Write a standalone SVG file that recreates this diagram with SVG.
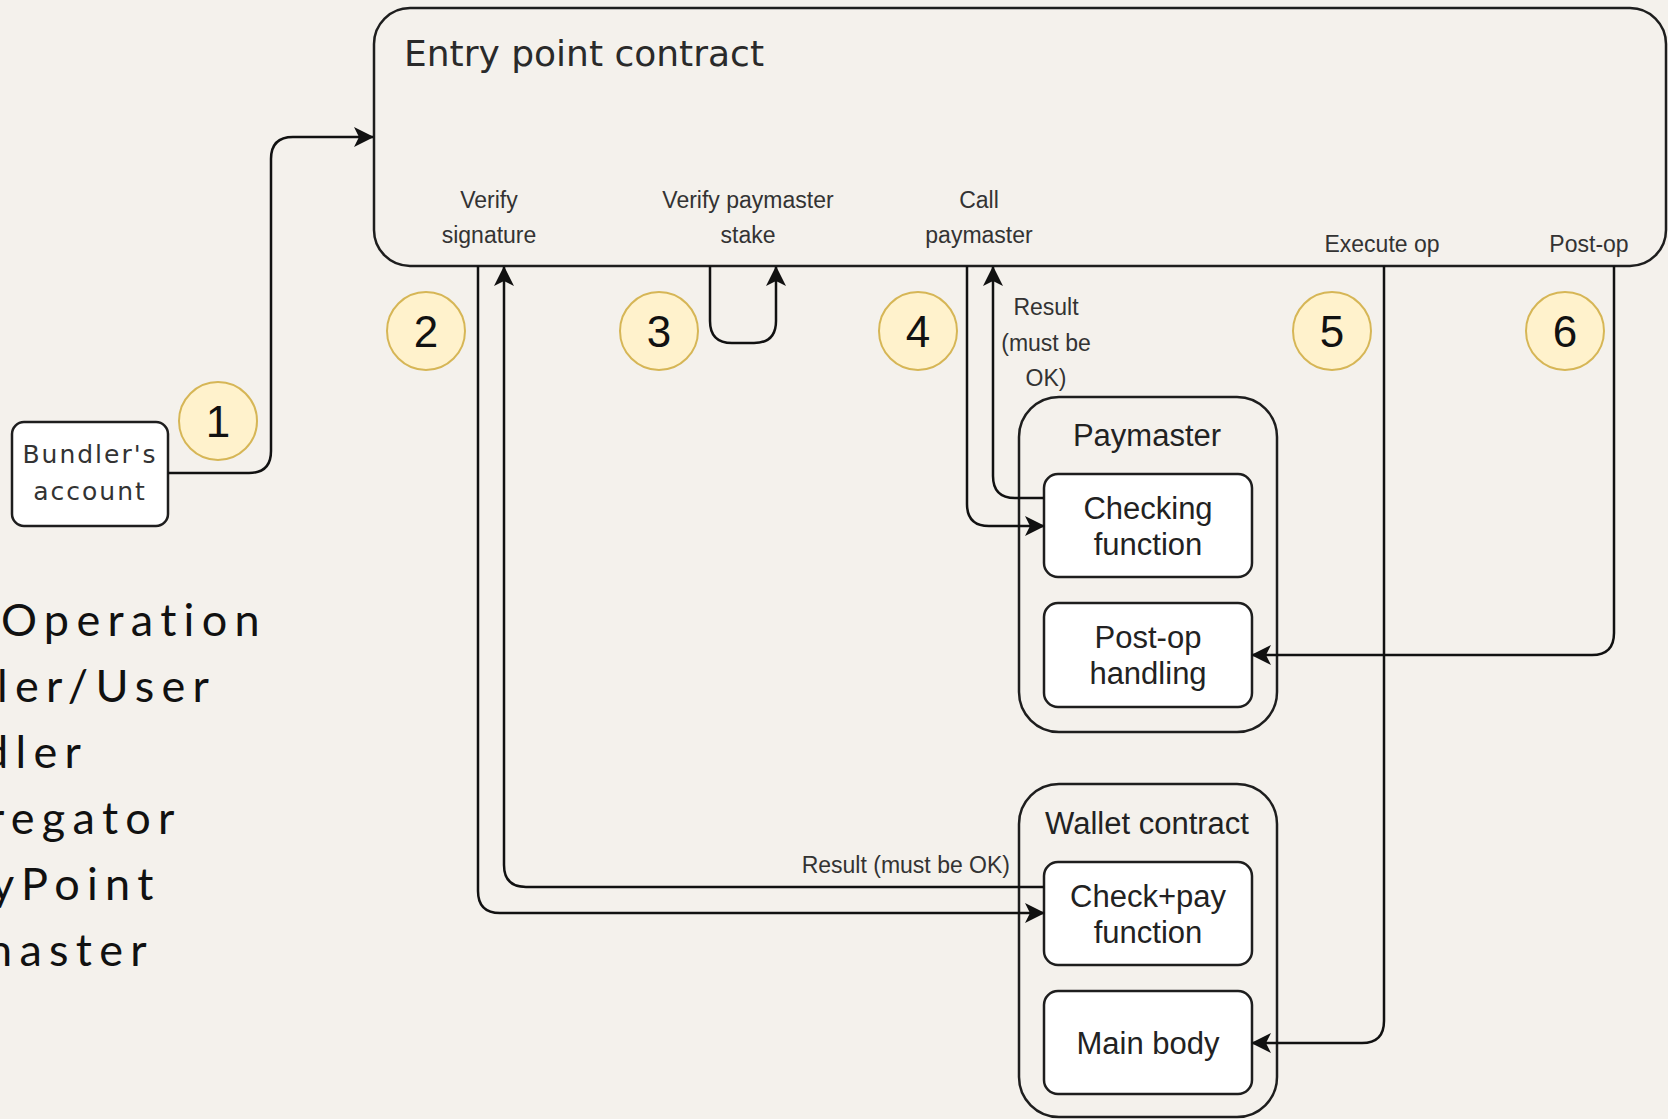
<svg xmlns="http://www.w3.org/2000/svg" width="1668" height="1119" viewBox="0 0 1668 1119">
<defs>
<style>
.bg{fill:#f4f1ec}
.frame{fill:none;stroke:#1e1e1e;stroke-width:2.5}
.box{fill:#ffffff;stroke:#1e1e1e;stroke-width:2.5}
.step{fill:#fff2cc;stroke:#d6b656;stroke-width:2}
.num{font-family:"Liberation Sans",Arial,sans-serif;font-size:44px;fill:#111;text-anchor:middle}
.lbl{font-family:"Liberation Sans",Arial,sans-serif;font-size:31px;fill:#222;text-anchor:middle}
.small{font-family:"Liberation Sans",Arial,sans-serif;font-size:23px;fill:#333;text-anchor:middle}
.title{font-family:"DejaVu Sans",Verdana,sans-serif;font-size:36px;fill:#2a2a2a}
.bund{font-family:"DejaVu Sans",Verdana,sans-serif;font-size:25px;fill:#333;text-anchor:middle;letter-spacing:2px}
.legend{font-family:Lato,"Open Sans",sans-serif;font-size:45px;fill:#111;letter-spacing:7.3px}
.edge{fill:none;stroke:#111;stroke-width:2.5}
</style>
<marker id="arr" viewBox="0 0 20 20" refX="19" refY="10" markerWidth="20" markerHeight="20" markerUnits="userSpaceOnUse" orient="auto">
<path d="M0,0 L20,10 L0,20 L5,10 Z" fill="#111"/>
</marker>
</defs>
<rect class="bg" x="0" y="0" width="1668" height="1119"/>

<g id="legend">
<text class="legend" x="1" y="636">Operation</text>
<text class="legend" x="-3" y="702">ler/User</text>
<text class="legend" x="-17" y="768">dler</text>
<text class="legend" x="-12" y="834">regator</text>
<text class="legend" x="-9" y="900">yPoint</text>
<text class="legend" x="-13" y="966">naster</text>
</g>

<g id="entry-point">
<rect class="frame" x="374" y="8" width="1292" height="258" rx="36"/>
<text class="title" x="404" y="66">Entry point contract</text>
<text class="small" x="489" y="208">Verify</text>
<text class="small" x="489" y="243">signature</text>
<text class="small" x="748" y="208">Verify paymaster</text>
<text class="small" x="748" y="243">stake</text>
<text class="small" x="979" y="208">Call</text>
<text class="small" x="979" y="243">paymaster</text>
<text class="small" x="1382" y="252">Execute op</text>
<text class="small" x="1589" y="252">Post-op</text>
</g>

<g id="bundler">
<rect class="box" x="12" y="422" width="156" height="104" rx="12"/>
<text class="bund" x="90" y="463">Bundler's</text>
<text class="bund" x="90" y="500">account</text>
</g>

<g id="paymaster">
<rect class="frame" x="1019" y="397" width="258" height="335" rx="40"/>
<text class="lbl" x="1147" y="446">Paymaster</text>
</g>
<g id="checking-function">
<rect class="box" x="1044" y="474" width="208" height="103" rx="14"/>
<text class="lbl" x="1148" y="519">Checking</text>
<text class="lbl" x="1148" y="555">function</text>
</g>
<g id="post-op-handling">
<rect class="box" x="1044" y="603" width="208" height="104" rx="14"/>
<text class="lbl" x="1148" y="648">Post-op</text>
<text class="lbl" x="1148" y="684">handling</text>
</g>

<g id="wallet">
<rect class="frame" x="1019" y="784" width="258" height="333" rx="40"/>
<text class="lbl" x="1147" y="834">Wallet contract</text>
</g>
<g id="check-pay">
<rect class="box" x="1044" y="862" width="208" height="103" rx="14"/>
<text class="lbl" x="1148" y="907">Check+pay</text>
<text class="lbl" x="1148" y="943">function</text>
</g>
<g id="main-body">
<rect class="box" x="1044" y="991" width="208" height="103" rx="14"/>
<text class="lbl" x="1148" y="1054">Main body</text>
</g>

<g id="steps">
<circle class="step" cx="218" cy="421" r="39"/><text class="num" x="218" y="437">1</text>
<circle class="step" cx="426" cy="331" r="39"/><text class="num" x="426" y="347">2</text>
<circle class="step" cx="659" cy="331" r="39"/><text class="num" x="659" y="347">3</text>
<circle class="step" cx="918" cy="331" r="39"/><text class="num" x="918" y="347">4</text>
<circle class="step" cx="1332" cy="331" r="39"/><text class="num" x="1332" y="347">5</text>
<circle class="step" cx="1565" cy="331" r="39"/><text class="num" x="1565" y="347">6</text>
</g>

<g id="connectors">
<path class="edge" marker-end="url(#arr)" d="M168,473 H249 Q271,473 271,451 V159 Q271,137 293,137 H373"/>
<path class="edge" marker-end="url(#arr)" d="M478,266 V891 Q478,913 500,913 H1044"/>
<path class="edge" marker-end="url(#arr)" d="M1044,887 H526 Q504,887 504,865 V267"/>
<path class="edge" marker-end="url(#arr)" d="M710,266 V321 Q710,343 732,343 H754 Q776,343 776,321 V267"/>
<path class="edge" marker-end="url(#arr)" d="M967,266 V504 Q967,526 989,526 H1044"/>
<path class="edge" marker-end="url(#arr)" d="M1044,498 H1015 Q993,498 993,476 V267"/>
<path class="edge" marker-end="url(#arr)" d="M1384,266 V1021 Q1384,1043 1362,1043 H1252"/>
<path class="edge" marker-end="url(#arr)" d="M1614,266 V633 Q1614,655 1592,655 H1252"/>
<text class="small" x="1046" y="315">Result</text>
<text class="small" x="1046" y="351">(must be</text>
<text class="small" x="1046" y="386">OK)</text>
<text class="small" x="1010" y="873" style="text-anchor:end">Result (must be OK)</text>
</g>
</svg>
